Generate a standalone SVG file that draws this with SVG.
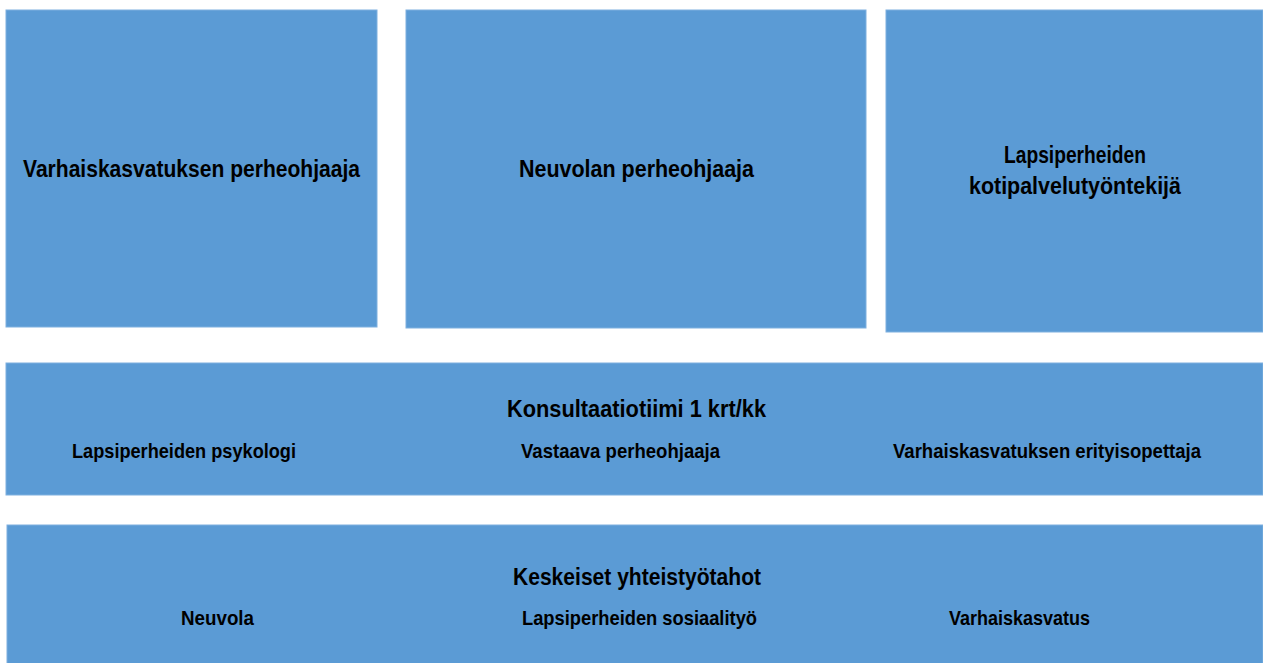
<svg xmlns="http://www.w3.org/2000/svg" width="1263" height="663" viewBox="0 0 1263 663">
<style>
.box{fill:#5B9BD5;stroke:#7FB0DF;stroke-width:1}
.t{font-family:"Liberation Sans",Arial,sans-serif;font-weight:bold;fill:#000;text-anchor:middle}
.b{font-size:24px}
.h{font-size:23px}
.s{font-size:21px}
</style>
<rect width="1263" height="663" fill="#fff"/>
<g id="node-varhais">
<rect class="box" x="6" y="10" width="371" height="317"/>
<text class="t b" x="191.5" y="177" textLength="337" lengthAdjust="spacingAndGlyphs">Varhaiskasvatuksen perheohjaaja</text>
</g>
<g id="node-neuvola-ohjaaja">
<rect class="box" x="406" y="10" width="460" height="318"/>
<text class="t b" x="636.5" y="177" textLength="235" lengthAdjust="spacingAndGlyphs">Neuvolan perheohjaaja</text>
</g>
<g id="node-koti">
<rect class="box" x="886" y="10" width="377" height="322"/>
<text class="t h" x="1075" y="163" textLength="142" lengthAdjust="spacingAndGlyphs">Lapsiperheiden</text>
<text class="t h" x="1075" y="194" textLength="212" lengthAdjust="spacingAndGlyphs">kotipalvelutyöntekijä</text>
</g>
<g id="node-konsultaatio">
<rect class="box" x="6" y="363" width="1257" height="132"/>
<text class="t h" x="636.5" y="417" textLength="259" lengthAdjust="spacingAndGlyphs">Konsultaatiotiimi  1 krt/kk</text>
<text class="t s" x="184" y="458" textLength="224" lengthAdjust="spacingAndGlyphs">Lapsiperheiden psykologi</text>
<text class="t s" x="620.5" y="458" textLength="199" lengthAdjust="spacingAndGlyphs">Vastaava perheohjaaja</text>
<text class="t s" x="1047" y="458" textLength="308" lengthAdjust="spacingAndGlyphs">Varhaiskasvatuksen erityisopettaja</text>
</g>
<g id="node-yhteistyo">
<rect class="box" x="7" y="525" width="1256" height="139"/>
<text class="t h" x="637" y="585" textLength="248" lengthAdjust="spacingAndGlyphs">Keskeiset yhteistyötahot</text>
<text class="t s" x="217.5" y="625" textLength="73" lengthAdjust="spacingAndGlyphs">Neuvola</text>
<text class="t s" x="639.5" y="625" textLength="235" lengthAdjust="spacingAndGlyphs">Lapsiperheiden sosiaalityö</text>
<text class="t s" x="1019.5" y="625" textLength="141" lengthAdjust="spacingAndGlyphs">Varhaiskasvatus</text>
</g>
<g id="connectors"></g>
</svg>
